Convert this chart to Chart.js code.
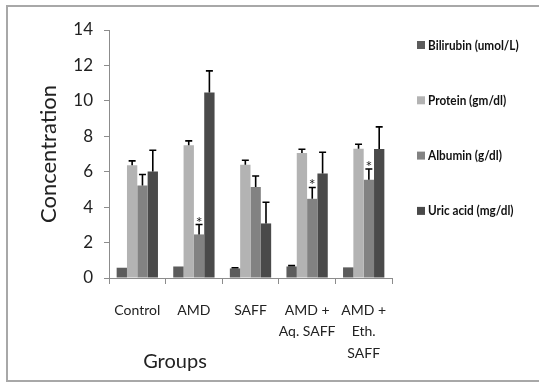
<!DOCTYPE html>
<html>
<head>
<meta charset="utf-8">
<script src="https://cdn.jsdelivr.net/npm/chart.js@4"></script>
<style>
    html, body { margin: 0; padding: 0; background: #fff; }
    #wrap { position: relative; width: 539px; height: 384px; overflow: hidden; }
    #frame {
        position: absolute; left: 6px; top: 5px; width: 540px; height: 377px;
        border: 2px solid #a8a8a8; box-sizing: border-box;
    }
    canvas { position: absolute; left: 0; top: 0; }
</style>
</head>
<body>
<div id="wrap">
    <div id="frame"></div>
    <canvas id="chart" width="539" height="384"></canvas>
</div>
<script>
// Groups and series
const groups = ['Control', 'AMD', 'SAFF', ['AMD +', 'Aq. SAFF'], ['AMD +', 'Eth.', 'SAFF']];
const yTicks = [0, 2, 4, 6, 8, 10, 12, 14];

const bilirubin = [0.58, 0.65, 0.54, 0.65, 0.6];
const protein = [6.37, 7.5, 6.4, 7.05, 7.3];
const albumin = [5.22, 2.46, 5.14, 4.47, 5.55];
const uricAcid = [6.01, 10.47, 3.08, 5.9, 7.28];

// upper error bars (SD)
const bilirubinErr = [0, 0, 0.04, 0.05, 0];
const proteinErr = [0.24, 0.24, 0.25, 0.22, 0.25];
const albuminErr = [0.62, 0.56, 0.62, 0.64, 0.6];
const uricAcidErr = [1.2, 1.22, 1.2, 1.2, 1.25];

// significance marks on albumin
const albuminStar = [false, true, false, true, true];

const FONT = 'Lato, "Open Sans", sans-serif';

// Draws upward error bars with caps, plus asterisks
const errorBarPlugin = {
    id: 'errorBars',
    afterDatasetsDraw(chart) {
        const ctx = chart.ctx;
        const yScale = chart.scales.y;
        ctx.save();
        chart.data.datasets.forEach((ds, i) => {
            const meta = chart.getDatasetMeta(i);
            meta.data.forEach((bar, j) => {
                const err = ds.errors[j];
                if (!err) return;
                const yTop = yScale.getPixelForValue(ds.data[j] + err);
                ctx.strokeStyle = '#000';
                ctx.lineWidth = 1.6;
                ctx.beginPath();
                ctx.moveTo(bar.x, bar.y);
                ctx.lineTo(bar.x, yTop);
                ctx.moveTo(bar.x - 3.5, yTop);
                ctx.lineTo(bar.x + 3.5, yTop);
                ctx.stroke();
                if (ds.stars && ds.stars[j]) {
                    ctx.fillStyle = '#222';
                    ctx.font = '16px ' + FONT;
                    ctx.textAlign = 'center';
                    ctx.textBaseline = 'alphabetic';
                    ctx.fillText('*', bar.x, yTop + 3);
                }
            });
        });
        ctx.restore();
    }
};

// Legend on the right with wide gaps, and the axis captions
const sideLegendPlugin = {
    id: 'sideLegend',
    afterDraw(chart) {
        const ctx = chart.ctx;
        ctx.save();
        chart.data.datasets.forEach((ds, i) => {
            const y = 45 + i * 55.3;
            ctx.fillStyle = ds.backgroundColor;
            ctx.fillRect(417, y - 4, 8, 8);
            ctx.save();
            ctx.translate(428, y);
            ctx.scale(0.84, 1);
            ctx.fillStyle = '#111';
            ctx.font = 'bold 14px ' + FONT;
            ctx.textAlign = 'left';
            ctx.textBaseline = 'middle';
            ctx.fillText(ds.label, 0, 0);
            ctx.restore();
        });
        ctx.fillStyle = '#222';
        ctx.font = '20px ' + FONT;
        ctx.textAlign = 'center';
        ctx.textBaseline = 'middle';
        ctx.fillText('Groups', 175, 362);

        const area = chart.chartArea;
        ctx.save();
        ctx.translate(49, (area.top + area.bottom) / 2);
        ctx.rotate(-Math.PI / 2);
        ctx.font = '22px ' + FONT;
        ctx.fillText('Concentration', 0, 0);
        ctx.restore();
        ctx.restore();
    }
};

new Chart(document.getElementById('chart').getContext('2d'), {
    type: 'bar',
    data: {
        labels: groups,
        datasets: [
            { label: 'Bilirubin (umol/L)', data: bilirubin, errors: bilirubinErr, backgroundColor: '#5c5c5c' },
            { label: 'Protein (gm/dl)', data: protein, errors: proteinErr, backgroundColor: '#b3b3b3' },
            { label: 'Albumin (g/dl)', data: albumin, errors: albuminErr, stars: albuminStar, backgroundColor: '#828282' },
            { label: 'Uric acid (mg/dl)', data: uricAcid, errors: uricAcidErr, backgroundColor: '#4a4a4a' }
        ]
    },
    options: {
        responsive: false,
        animation: false,
        datasets: { bar: { categoryPercentage: 0.73, barPercentage: 1 } },
        layout: { padding: { left: 0, right: 147, top: 30, bottom: 0 } },
        plugins: {
            legend: { display: false },
            tooltip: { enabled: false }
        },
        scales: {
            x: {
                grid: { display: true, drawOnChartArea: false, offset: true, tickLength: 6, color: '#8c8c8c' },
                border: { color: '#8c8c8c', width: 1 },
                ticks: { color: '#222', font: { family: FONT, size: 14, lineHeight: 1.52 }, padding: 16, maxRotation: 0, autoSkip: false },
                afterFit(scale) { scale.height = 106; }
            },
            y: {
                min: 0,
                max: 14,
                afterBuildTicks(scale) { scale.ticks = yTicks.map(v => ({ value: v })); },
                grid: { display: true, drawOnChartArea: false, tickLength: 5, color: '#8c8c8c' },
                border: { color: '#8c8c8c', width: 1 },
                ticks: { color: '#222', font: { family: FONT, size: 17 }, padding: 11 },
                afterFit(scale) { scale.width = 109; }
            }
        }
    },
    plugins: [errorBarPlugin, sideLegendPlugin]
});
</script>
</body>
</html>
